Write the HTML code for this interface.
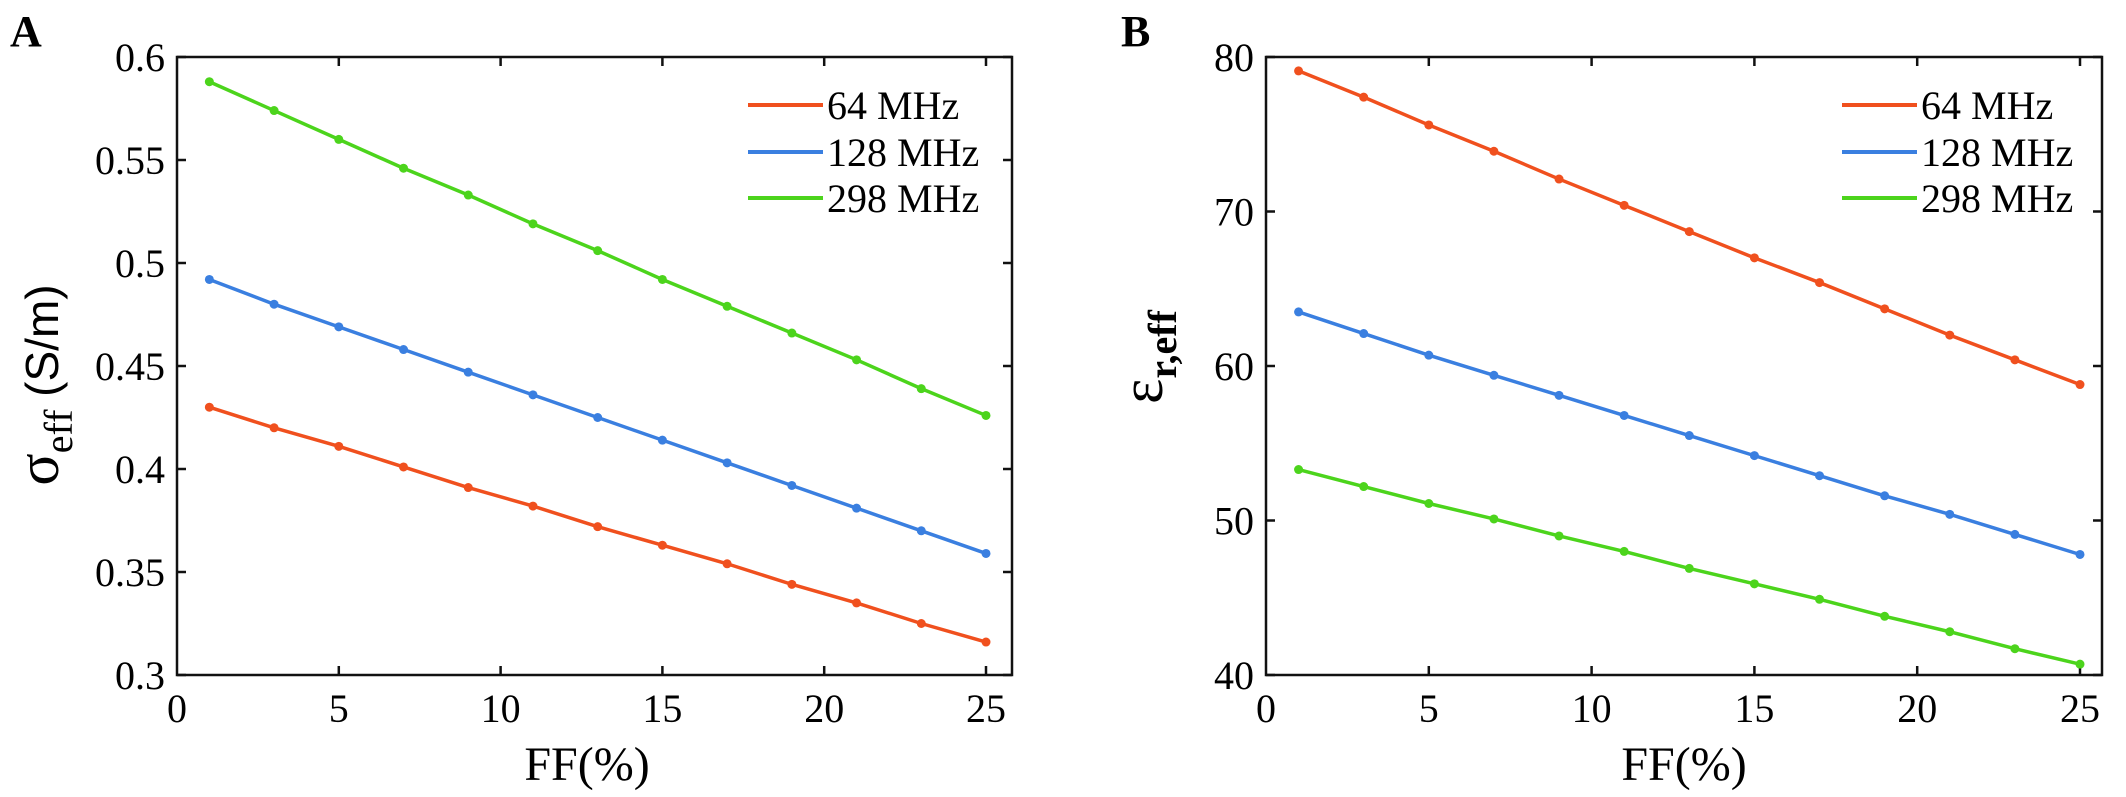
<!DOCTYPE html>
<html><head><meta charset="utf-8"><style>
html,body{margin:0;padding:0;background:#fff;}
svg{display:block;font-family:"Liberation Serif",serif;}
</style></head><body>
<svg id="s" width="2126" height="797" viewBox="0 0 2126 797" xmlns="http://www.w3.org/2000/svg"></svg>
<script>
const ffValues = [1,3,5,7,9,11,13,15,17,19,21,23,25];
const seriesNames = ["64 MHz","128 MHz","298 MHz"];
const seriesColors = ["#f0501e","#3a7fe0","#4cd41c"];
const sigma64 = [0.430,0.420,0.411,0.401,0.391,0.382,0.372,0.363,0.354,0.344,0.335,0.325,0.316];
const sigma128 = [0.492,0.480,0.469,0.458,0.447,0.436,0.425,0.414,0.403,0.392,0.381,0.370,0.359];
const sigma298 = [0.588,0.574,0.560,0.546,0.533,0.519,0.506,0.492,0.479,0.466,0.453,0.439,0.426];
const eps64 = [79.1,77.4,75.6,73.9,72.1,70.4,68.7,67.0,65.4,63.7,62.0,60.4,58.8];
const eps128 = [63.5,62.1,60.7,59.4,58.1,56.8,55.5,54.2,52.9,51.6,50.4,49.1,47.8];
const eps298 = [53.3,52.2,51.1,50.1,49.0,48.0,46.9,45.9,44.9,43.8,42.8,41.7,40.7];
const xTicks = [0,5,10,15,20,25];
const yTicksA = [0.3,0.35,0.4,0.45,0.5,0.55,0.6];
const yTickLabelsA = ["0.3","0.35","0.4","0.45","0.5","0.55","0.6"];
const yTicksB = [40,50,60,70,80];
const yTickLabelsB = ["40","50","60","70","80"];

const NS="http://www.w3.org/2000/svg";
const svg=document.getElementById('s');
function mk(tag,attrs,parent){const e=document.createElementNS(NS,tag);for(const k in attrs)e.setAttribute(k,attrs[k]);(parent||svg).appendChild(e);return e;}

function panel(cfg){
  const g=mk('g',{});
  
  
  const L=cfg.left,R=cfg.right,T=57,B=675;
  const xs=v=>L+(v-0)/25*(cfg.x25-L);
  const ys=v=>B-(v-cfg.ymin)/(cfg.ymax-cfg.ymin)*(B-T);
  const frame=mk('rect',{x:L,y:T,width:R-L,height:B-T,fill:'none',stroke:'#111','stroke-width':2.5},g);
  
  
  xTicks.forEach(v=>{
    const x=xs(v);
    if(v>0){mk('line',{x1:x,x2:x,y1:B,y2:B-9,stroke:'#111','stroke-width':2.5},g);
    mk('line',{x1:x,x2:x,y1:T,y2:T+9,stroke:'#111','stroke-width':2.5},g);}
    const t=mk('text',{x:x,y:722,'text-anchor':'middle','font-size':40},g);
    t.textContent=v;
    
    
  });
  cfg.yTicks.forEach((v,i)=>{
    const y=ys(v);
    mk('line',{x1:L,x2:L+9,y1:y,y2:y,stroke:'#111','stroke-width':2.5},g);
    mk('line',{x1:R,x2:R-9,y1:y,y2:y,stroke:'#111','stroke-width':2.5},g);
    const t=mk('text',{x:L-12,y:y+14,'text-anchor':'end','font-size':40},g);
    t.textContent=cfg.yLabels[i];
    
    
  });
  cfg.series.forEach((arr,si)=>{
    const pts=arr.map((v,i)=>xs(ffValues[i])+','+ys(v)).join(' ');
    const pl=mk('polyline',{points:pts,fill:'none',stroke:seriesColors[si],'stroke-width':3.5},g);
    
    
    arr.forEach((v,i)=>{
      const c=mk('circle',{cx:xs(ffValues[i]),cy:ys(v),r:4.5,fill:seriesColors[si]},g);
      
      
    });
  });
  const legY=[105,152,198];
  seriesNames.forEach((n,si)=>{
    const l=mk('line',{x1:cfg.legX,x2:cfg.legX+75,y1:legY[si],y2:legY[si],stroke:seriesColors[si],'stroke-width':4},g);
    
    
    const t=mk('text',{x:cfg.legX+79,y:legY[si]+14,'font-size':40},g);
    t.textContent=n;
    
    
  });
  const xt=mk('text',{x:cfg.xTitleX,y:780,'text-anchor':'middle','font-size':48},g);
  xt.textContent='FF(%)';
  
  
  const pl=mk('text',{x:cfg.labX,y:46,'font-size':44,'font-weight':'bold'},g);
  pl.textContent=cfg.label;
  
  
  return g;
}

panel({name:'panel-a-conductivity',left:177,right:1012,x25:986,ymin:0.3,ymax:0.6,yTicks:yTicksA,yLabels:yTickLabelsA,series:[sigma64,sigma128,sigma298],legX:748,xTitleX:587,labX:10,label:'A'});
panel({name:'panel-b-permittivity',left:1266,right:2102,x25:2080,ymin:40,ymax:80,yTicks:yTicksB,yLabels:yTickLabelsB,series:[eps64,eps128,eps298],legX:1842,xTitleX:1684,labX:1121,label:'B'});

const ya=mk('text',{transform:'translate(58,385) rotate(-90)','text-anchor':'middle','font-size':52});
ya.innerHTML='<tspan font-size="60">σ</tspan><tspan font-size="40" dy="14">eff</tspan><tspan dy="-14" font-family="Liberation Sans, sans-serif" font-size="46"> (S/m)</tspan>';


const yb=mk('text',{transform:'translate(1162,357) rotate(-90)','text-anchor':'middle','font-size':52});
yb.innerHTML='<tspan font-size="60">ε</tspan><tspan font-size="40" dy="14" font-weight="bold">r,eff</tspan>';


</script>
</body></html>
